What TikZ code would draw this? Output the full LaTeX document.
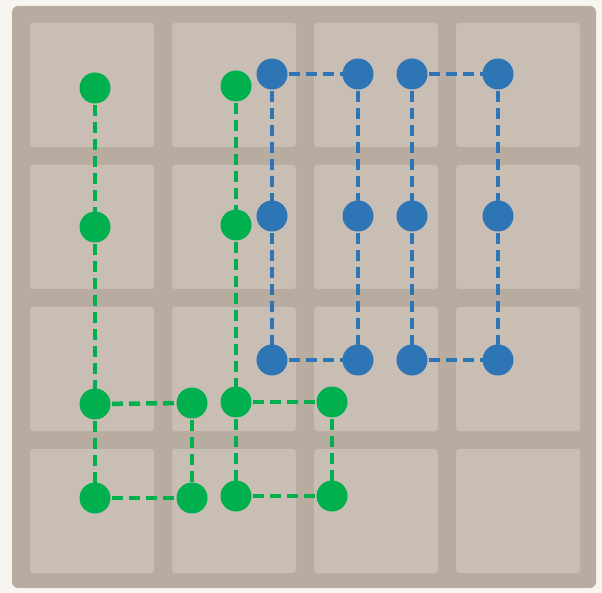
\documentclass[tikz,border=0pt]{standalone}
\usepackage{tikz}
\definecolor{bgc}{HTML}{F8F5F0}
\definecolor{boardc}{HTML}{B8ACA1}
\definecolor{tilec}{HTML}{C9BEB3}
\definecolor{greenc}{HTML}{00B04F}
\definecolor{bluec}{HTML}{2E75B6}
\tikzset{
  gdot/.style={circle,fill=greenc,inner sep=0pt,minimum size=31pt},
  bdot/.style={circle,fill=bluec,inner sep=0pt,minimum size=31pt},
  glink/.style={draw=greenc,line width=4.5pt,dash pattern=on 11pt off 6pt},
  blink/.style={draw=bluec,line width=4.5pt,dash pattern=on 11pt off 6pt},
  tile/.style={fill=tilec,rounded corners=3pt}
}
\begin{document}
\begin{tikzpicture}[x=1pt,y=-1pt]
\fill[bgc] (0,0) rectangle (602,593);
\useasboundingbox (0,0) rectangle (602,593);
\fill[boardc,rounded corners=6pt] (12,6) rectangle (596,588);
\foreach \i in {0,1,2,3}{
  \foreach \j in {0,1,2,3}{
    \fill[tile] ({30+142*\i},{23+142*\j}) rectangle ++(124,124);
  }
}
% coordinates for green dots
\coordinate (gA1) at (95,88);
\coordinate (gA2) at (95,227);
\coordinate (gA3) at (95,404);
\coordinate (gA4) at (95,498);
\coordinate (gC3) at (192,403);
\coordinate (gC4) at (192,498);
\coordinate (gB1) at (236,86);
\coordinate (gB2) at (236,225);
\coordinate (gB3) at (236,402);
\coordinate (gB4) at (236,496);
\coordinate (gD3) at (332,402);
\coordinate (gD4) at (332,496);
% blue
\coordinate (b11) at (272,74);
\coordinate (b12) at (272,216);
\coordinate (b13) at (272,360);
\coordinate (b21) at (358,74);
\coordinate (b22) at (358,216);
\coordinate (b23) at (358,360);
\coordinate (b31) at (412,74);
\coordinate (b32) at (412,216);
\coordinate (b33) at (412,360);
\coordinate (b41) at (498,74);
\coordinate (b42) at (498,216);
\coordinate (b43) at (498,360);
% links
\path[glink] (gA1) -- (gA2);
\path[glink] (gA2) -- (gA3);
\path[glink] (gA3) -- (gA4);
\path[glink] (gA3) -- (gC3);
\path[glink] (gC3) -- (gC4);
\path[glink] (gA4) -- (gC4);
\path[glink] (gB1) -- (gB2);
\path[glink] (gB2) -- (gB3);
\path[glink] (gB3) -- (gB4);
\path[glink] (gB3) -- (gD3);
\path[glink] (gD3) -- (gD4);
\path[glink] (gB4) -- (gD4);
\path[blink] (b11) -- (b21);
\path[blink] (b11) -- (b12);
\path[blink] (b12) -- (b13);
\path[blink] (b21) -- (b22);
\path[blink] (b22) -- (b23);
\path[blink] (b13) -- (b23);
\path[blink] (b31) -- (b41);
\path[blink] (b31) -- (b32);
\path[blink] (b32) -- (b33);
\path[blink] (b41) -- (b42);
\path[blink] (b42) -- (b43);
\path[blink] (b33) -- (b43);
% dots
\foreach \n in {gA1,gA2,gA3,gA4,gC3,gC4,gB1,gB2,gB3,gB4,gD3,gD4}{
  \node[gdot] (n\n) at (\n) {};
}
\foreach \n in {b11,b12,b13,b21,b22,b23,b31,b32,b33,b41,b42,b43}{
  \node[bdot] (n\n) at (\n) {};
}
\end{tikzpicture}
\end{document}
